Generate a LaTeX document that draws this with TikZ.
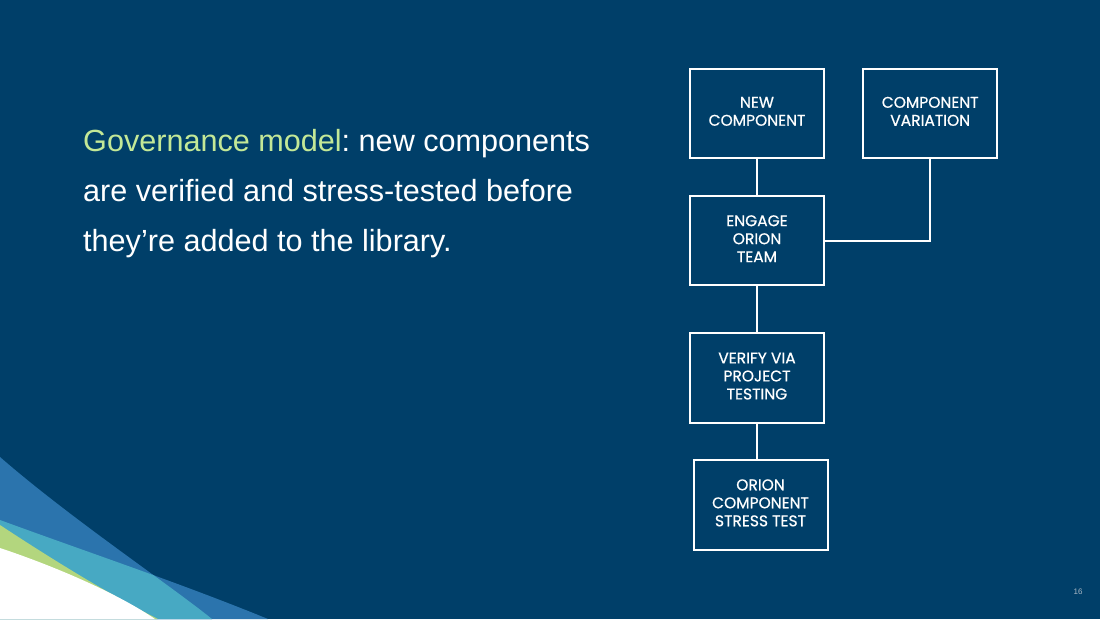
\documentclass[tikz,border=0pt]{standalone}
\usepackage{fontspec}
\setmainfont{Liberation Sans}
\newfontfamily\boxfont[FakeBold=0.6]{Poppins}
\definecolor{navy}{HTML}{003F69}
\definecolor{midblue}{HTML}{2B74AD}
\definecolor{lightblue}{HTML}{47A9C3}
\definecolor{swgreen}{HTML}{B3D67E}
\definecolor{titlegreen}{HTML}{C3E897}
\definecolor{pagegray}{HTML}{A9B7C4}
\frenchspacing
\begin{document}
\begin{tikzpicture}[x=1pt,y=-1pt,
  box/.style={draw=white, line width=2pt, minimum width=134pt, minimum height=89.5pt,
    inner sep=0pt, text=white, align=center, text depth=4pt,
    font=\boxfont\fontsize{15.5}{18}\selectfont},
  link/.style={draw=white, line width=2pt},
  bodytext/.style={anchor=base west, inner sep=0pt, text=white,
    font=\fontsize{30.6}{36}\selectfont}]
\useasboundingbox (0,0) rectangle (1100,619);
\fill[navy] (0,0) rectangle (1100,619);
% swooshes
\fill[midblue] (0,457) .. controls (70,518) and (170,585) .. (212,619) -- (0,619) -- cycle;
\fill[midblue] (0,520) .. controls (90,553) and (180,583) .. (268,619) -- (0,619) -- cycle;
\begin{scope}
  \clip (0,457) .. controls (70,518) and (170,585) .. (212,619) -- (0,619) -- cycle;
  \fill[lightblue] (0,520) .. controls (90,553) and (180,583) .. (268,619) -- (0,619) -- cycle;
\end{scope}
\fill[swgreen] (0,525) .. controls (50,558) and (110,595) .. (158,619) -- (0,619) -- cycle;
\fill[white] (0,548) .. controls (60,568) and (120,595) .. (155,619) -- (0,619) -- cycle;
% text
\node[bodytext] (l1) at (83,151) {{\color{titlegreen}Governance model}: new components};
\node[bodytext] (l2) at (83,201) {are verified and stress-tested before};
\node[bodytext] (l3) at (83,251) {they’re added to the library.};
% boxes
\node[box] (new) at (757,113.3) {NEW\\COMPONENT};
\node[box] (var) at (930.2,113.3) {COMPONENT\\VARIATION};
\node[box] (eng) at (757,240.7) {ENGAGE\\ORION\\TEAM};
\node[box] (ver) at (757,378) {VERIFY VIA\\PROJECT\\TESTING};
\node[box] (str) at (760.5,504.8) {ORION\\COMPONENT\\STRESS TEST};
\draw[link] (new) -- (eng);
\draw[link] (eng) -- (ver);
\draw[link] (ver.south) -- (ver.south |- str.north);
\draw[link] (var.south) |- (eng.east);
\node[anchor=center, inner sep=0pt, text=pagegray, font=\fontsize{8}{10}\selectfont] (pg) at (1078,592) {16};
\end{tikzpicture}
\end{document}
